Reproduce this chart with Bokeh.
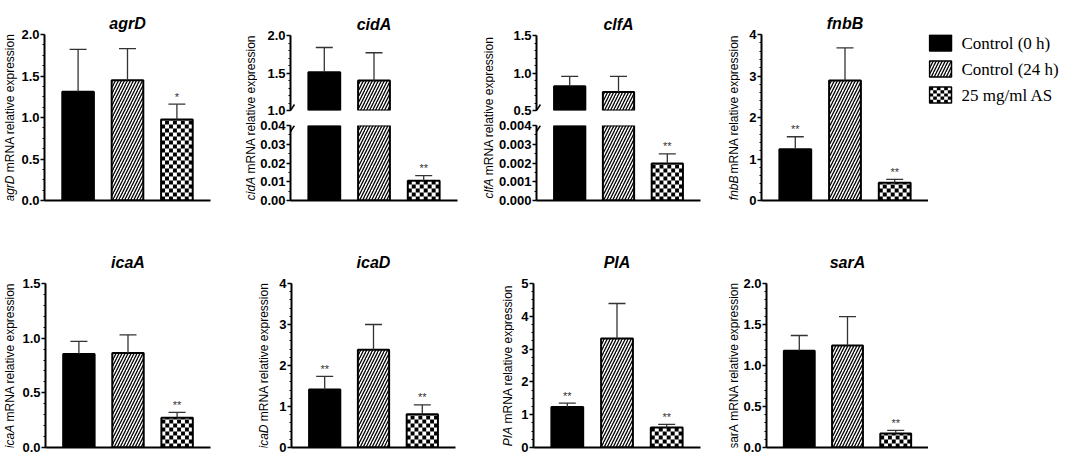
import math
from bokeh.plotting import figure
from bokeh.models import (Range1d, SingleIntervalTicker, ColumnDataSource, Whisker, TeeHead,
                          Label, PrintfTickFormatter)
from bokeh.layouts import row, column
from bokeh.embed import file_html
from bokeh.resources import INLINE
from bokeh.core.properties import value

# ---------------- data ----------------
groups = ["Control (0 h)", "Control (24 h)", "25 mg/ml AS"]
x_pos = [1, 2, 3]

agrD_mean = [1.31, 1.45, 0.975]
agrD_sd = [0.51, 0.38, 0.185]
agrD_sig = ["", "", "*"]

cidA_mean = [1.51, 1.40, 0.0105]
cidA_sd = [0.33, 0.37, 0.0028]
cidA_sig = ["", "", "**"]

clfA_mean = [0.825, 0.746, 0.00198]
clfA_sd = [0.131, 0.21, 0.00051]
clfA_sig = ["", "", "**"]

fnbB_mean = [1.236, 2.89, 0.43]
fnbB_sd = [0.30, 0.79, 0.08]
fnbB_sig = ["**", "", "**"]

icaA_mean = [0.855, 0.864, 0.273]
icaA_sd = [0.115, 0.166, 0.048]
icaA_sig = ["", "", "**"]

icaD_mean = [1.414, 2.384, 0.808]
icaD_sd = [0.323, 0.616, 0.232]
icaD_sig = ["**", "", "**"]

PIA_mean = [1.232, 3.32, 0.606]
PIA_sd = [0.122, 1.07, 0.101]
PIA_sig = ["**", "", "**"]

sarA_mean = [1.18, 1.244, 0.17]
sarA_sd = [0.186, 0.352, 0.04]
sarA_sig = ["", "", "**"]

DATA = {
    "agrD": (agrD_mean, agrD_sd, agrD_sig),
    "cidA": (cidA_mean, cidA_sd, cidA_sig),
    "clfA": (clfA_mean, clfA_sd, clfA_sig),
    "fnbB": (fnbB_mean, fnbB_sd, fnbB_sig),
    "icaA": (icaA_mean, icaA_sd, icaA_sig),
    "icaD": (icaD_mean, icaD_sd, icaD_sig),
    "PIA": (PIA_mean, PIA_sd, PIA_sig),
    "sarA": (sarA_mean, sarA_sd, sarA_sig),
}
YLABEL_REST = "mRNA relative expression"

# ---------------- styling ----------------
FONT = "Liberation Sans"
SERIF = "Liberation Serif"
ERR = "#333333"
XR = (0.32, 3.68)
BW = 0.64
CELL = 4.0
LBL_FS = 12

# Arial advance widths (per 1000 em) for placing the two-part rotated label
WID = {" ": 278, "m": 833, "R": 722, "N": 722, "A": 667, "r": 333, "e": 556, "l": 222,
       "a": 556, "t": 278, "i": 222, "v": 500, "x": 500, "p": 556, "s": 500, "o": 556,
       "n": 556, "g": 556, "D": 722, "c": 500, "d": 556, "f": 278, "b": 556, "P": 667,
       "I": 278}


def text_w(s, fs):
    return sum(WID.get(c, 556) for c in s) * fs / 1000


def base_fig(w, h, bl, br, bt, bb, yr, interval, minor, fmt, title=None, standoff=8,
             show_x=True):
    p = figure(width=w, height=h, min_border_left=bl, min_border_right=br,
               min_border_top=bt, min_border_bottom=bb,
               x_range=Range1d(*XR), y_range=Range1d(*yr),
               output_backend="svg", toolbar_location=None,
               x_axis_location="below" if show_x else None, title=title)
    p.outline_line_color = None
    p.grid.visible = False
    p.background_fill_color = "white"
    p.border_fill_color = "white"
    ya = p.yaxis[0]
    ya.ticker = SingleIntervalTicker(interval=interval, num_minor_ticks=minor)
    ya.formatter = PrintfTickFormatter(format=fmt)
    ya.axis_line_width = 2
    ya.axis_line_color = "black"
    ya.major_tick_line_width = 1.5
    ya.major_tick_out = 4
    ya.major_tick_in = 0
    ya.minor_tick_out = 2
    ya.minor_tick_in = 0
    ya.minor_tick_line_width = 1
    ya.major_label_text_font = FONT
    ya.major_label_text_font_style = "bold"
    ya.major_label_text_font_size = "13px"
    ya.major_label_text_color = "black"
    ya.major_label_standoff = 1
    if show_x:
        xa = p.xaxis[0]
        xa.ticker = []
        xa.axis_line_width = 2
        xa.axis_line_color = "black"
        xa.major_tick_out = 0
        xa.minor_tick_out = 0
        xa.major_tick_line_color = None
        xa.minor_tick_line_color = None
        xa.major_label_text_font_size = "0px"
        xa.major_label_standoff = 0
    if title is not None:
        p.title.text_font = FONT
        p.title.text_font_style = "bold italic"
        p.title.text_font_size = "16px"
        p.title.align = "center"
        p.title.vertical_align = "top"
        p.title.text_color = "black"
        p.title.standoff = standoff
    return p


def checker_cells(x0, x1, y0, y1, cw, ch):
    """black cells of a checkerboard inside the box, cell size cw x ch (data units)"""
    L, R, B, T = [], [], [], []
    ncol = max(1, int(round((x1 - x0) / cw)))
    dx = (x1 - x0) / ncol
    j = 0
    yb = y0
    while yb < y1 - 1e-12:
        yt = min(yb + ch, y1)
        for i in range(ncol):
            if (i + j) % 2 == 0:
                L.append(x0 + i * dx)
                R.append(x0 + (i + 1) * dx)
                B.append(yb)
                T.append(yt)
        yb += ch
        j += 1
    return dict(left=L, right=R, bottom=B, top=T)


def draw(p, gene, fw, fh, yr, bars_visible, extra_visible):
    mean, sd, sig = DATA[gene]
    sx = fw / (XR[1] - XR[0])
    sy = fh / (yr[1] - yr[0])
    for i in range(3):
        if not bars_visible(mean[i]):
            continue
        src = ColumnDataSource(dict(x=[x_pos[i]], top=[mean[i]]))
        if i == 0:
            p.vbar(x="x", top="top", bottom=0, width=BW, source=src,
                   fill_color="black", line_color=None)
        elif i == 1:
            p.vbar(x="x", top="top", bottom=0, width=BW, source=src,
                   fill_color="white", line_color=None, hatch_pattern="right_diagonal_line",
                   hatch_color="black", hatch_scale=6, hatch_weight=1.3)
        else:
            p.vbar(x="x", top="top", bottom=0, width=BW, source=src,
                   fill_color="white", line_color=None)
            cells = checker_cells(x_pos[i] - BW / 2, x_pos[i] + BW / 2, yr[0],
                                  min(mean[i], yr[1]), CELL / sx, CELL / sy)
            p.quad(source=ColumnDataSource(cells), left="left", right="right",
                   bottom="bottom", top="top", fill_color="black", line_color=None)
        p.vbar(x="x", top="top", bottom=0, width=BW, source=src,
               fill_color=None, line_color="black", line_width=2)
    idx = [i for i in range(3) if extra_visible(mean[i])]
    if idx:
        ws = ColumnDataSource(dict(base=[x_pos[i] for i in idx],
                                   lower=[mean[i] for i in idx],
                                   upper=[mean[i] + sd[i] for i in idx]))
        p.add_layout(Whisker(source=ws, base="base", lower="lower", upper="upper",
                             dimension="height", line_color=ERR, line_width=1.3,
                             lower_head=None, level="annotation",
                             upper_head=TeeHead(size=17, line_color=ERR, line_width=1.3)))
        ts = ColumnDataSource(dict(x=[x_pos[i] for i in idx],
                                   y=[mean[i] + sd[i] for i in idx],
                                   t=[sig[i] for i in idx]))
        p.text(x="x", y="y", text="t", source=ts, text_font=value(FONT),
               text_font_size="11px", text_align="center", text_baseline="bottom",
               y_offset=-1.5, text_color=ERR)


def break_mark(p, fw, fh, yr, at_top):
    """axis-break slash drawn just inside the plot area next to the y axis"""
    sx = fw / (XR[1] - XR[0])
    sy = fh / (yr[1] - yr[0])
    if at_top:
        y0, y1 = yr[1] - 6 / sy, yr[1]
    else:
        y0, y1 = yr[0], yr[0] + 6 / sy
    p.segment(x0=[XR[0]], y0=[y0], x1=[XR[0] + 4 / sx], y1=[y1],
              line_color="black", line_width=1.5)


def plain_fig(w, h, bt, bb):
    fh = h - bt - bb
    p = figure(width=w, height=h, x_range=Range1d(0, w), y_range=Range1d(0, fh),
               min_border=0, min_border_left=0, min_border_right=0, min_border_top=bt,
               min_border_bottom=bb, output_backend="svg", toolbar_location=None,
               x_axis_location=None, y_axis_location=None, title=None)
    p.outline_line_color = None
    p.grid.visible = False
    p.background_fill_color = "white"
    p.border_fill_color = "white"
    return p, fh


def label_fig(w, h, bt, bb, gene, italic=True):
    """rotated y-axis title (italic gene name + regular rest), centred on the frame"""
    p, fh = plain_fig(w, h, bt, bb)
    gw = text_w(gene, LBL_FS)
    sp = text_w(" ", LBL_FS)
    rw = text_w(YLABEL_REST, LBL_FS)
    start = fh / 2 - (gw + sp + rw) / 2
    common = dict(angle=math.pi / 2, text_align="left", text_baseline="middle",
                  text_font=FONT, text_font_size=f"{LBL_FS}px", text_color="black")
    p.add_layout(Label(x=w / 2, y=start, text=gene,
                       text_font_style="italic" if italic else "normal", **common))
    p.add_layout(Label(x=w / 2, y=start + gw + sp, text=YLABEL_REST, **common))
    return p


def fmt_for(interval):
    if interval >= 1:
        return "%d"
    if interval >= 0.1:
        return "%.1f"
    if interval >= 0.01:
        return "%.2f"
    return "%.3f"


# ---------------- layout ----------------
H1, T1, B1 = 232, 34, 32
H2, T2, B2 = 222, 51, 7
ST1, ST2 = 2, 22

row1_cfg = [
    dict(gene="agrD", lw=18, bl=26, fw=166, br=33, yr=(0, 2), iv=0.5, mn=4),
    dict(gene="cidA", lw=14, bl=31, fw=169, br=24, top=(1.0, 2.0), tiv=0.5, tmn=5,
         bot=(0, 0.04), biv=0.01, bmn=2),
    dict(gene="clfA", lw=14, bl=38, fw=167, br=26, top=(0.5, 1.5), tiv=0.5, tmn=5,
         bot=(0, 0.004), biv=0.001, bmn=2),
    dict(gene="fnbB", lw=14, bl=21, fw=167, br=0, yr=(0, 4), iv=1, mn=5),
]
row2_cfg = [
    dict(gene="icaA", lw=18, bl=27, fw=165, br=46, yr=(0, 1.5), iv=0.5, mn=5),
    dict(gene="icaD", lw=14, bl=21, fw=164, br=45, yr=(0, 4), iv=1, mn=5),
    dict(gene="PIA", lw=14, bl=19, fw=167, br=26, yr=(0, 5), iv=1, mn=4),
    dict(gene="sarA", lw=14, bl=21, fw=167, br=0, yr=(0, 2), iv=0.5, mn=5, italic=False),
]

row1_children = []
for c in row1_cfg:
    w = c["bl"] + c["fw"] + c["br"]
    if "top" in c:
        tt, tf, tb = 35, 75, 8
        bt, bf = 7, 75
        pt = base_fig(w, tt + tf + tb, c["bl"], c["br"], tt, tb, c["top"], c["tiv"], c["tmn"],
                      fmt_for(c["tiv"]), title=c["gene"], standoff=ST1, show_x=False)
        lo = c["top"][0]
        draw(pt, c["gene"], c["fw"], tf, c["top"], lambda m, lo=lo: m > lo,
             lambda m, lo=lo: m > lo)
        break_mark(pt, c["fw"], tf, c["top"], at_top=False)
        pb = base_fig(w, H1 - (tt + tf + tb), c["bl"], c["br"], bt, B1, c["bot"], c["biv"],
                      c["bmn"], fmt_for(c["biv"]))
        hi = c["bot"][1]
        draw(pb, c["gene"], c["fw"], bf, c["bot"], lambda m: True, lambda m, hi=hi: m <= hi)
        break_mark(pb, c["fw"], bf, c["bot"], at_top=True)
        row1_children += [label_fig(c["lw"], H1, T1, B1, c["gene"]), column(pt, pb)]
    else:
        fh = H1 - T1 - B1
        p = base_fig(w, H1, c["bl"], c["br"], T1, B1, c["yr"], c["iv"], c["mn"],
                     fmt_for(c["iv"]), title=c["gene"], standoff=ST1)
        draw(p, c["gene"], c["fw"], fh, c["yr"], lambda m: True, lambda m: True)
        row1_children += [label_fig(c["lw"], H1, T1, B1, c["gene"]), p]

# legend (drawn as glyphs in its own small figure, frame aligned with the row)
LW = 137
lp, lfh = plain_fig(LW, H1, T1, B1)
sq_left, sq_w, sq_h, first_top, pitch = 1, 22, 16, 0.5, 26
for i, g in enumerate(groups):
    top_up = lfh - (first_top + i * pitch)
    bot_up = top_up - sq_h
    box = ColumnDataSource(dict(left=[sq_left], right=[sq_left + sq_w], bottom=[bot_up], top=[top_up]))
    if i == 0:
        lp.quad(source=box, left="left", right="right", bottom="bottom", top="top",
                fill_color="black", line_color="black", line_width=1.5)
    elif i == 1:
        lp.quad(source=box, left="left", right="right", bottom="bottom", top="top",
                fill_color="white", line_color=None, hatch_pattern="right_diagonal_line",
                hatch_color="black", hatch_scale=6, hatch_weight=1.3)
        lp.quad(source=box, left="left", right="right", bottom="bottom", top="top",
                fill_color=None, line_color="black", line_width=1.5)
    else:
        lp.quad(source=ColumnDataSource(checker_cells(sq_left, sq_left + sq_w, bot_up, top_up,
                                                      3.7, 3.2)),
                left="left", right="right", bottom="bottom", top="top",
                fill_color="black", line_color=None)
        lp.quad(source=box, left="left", right="right", bottom="bottom", top="top",
                fill_color=None, line_color="black", line_width=1.5)
    lp.text(x=[sq_left + sq_w + 10], y=[(top_up + bot_up) / 2], text=[g],
            text_font=value(SERIF), text_font_size="17px", text_align="left",
            text_baseline="middle", text_color="black")
row1_children.append(lp)

row2_children = []
for c in row2_cfg:
    w = c["bl"] + c["fw"] + c["br"]
    fh = H2 - T2 - B2
    p = base_fig(w, H2, c["bl"], c["br"], T2, B2, c["yr"], c["iv"], c["mn"],
                 fmt_for(c["iv"]), title=c["gene"], standoff=ST2)
    draw(p, c["gene"], c["fw"], fh, c["yr"], lambda m: True, lambda m: True)
    row2_children += [label_fig(c["lw"], H2, T2, B2, c["gene"], c.get("italic", True)), p]

layout = column(row(*row1_children), row(*row2_children))
open("out.html", "w").write(file_html(layout, INLINE))
